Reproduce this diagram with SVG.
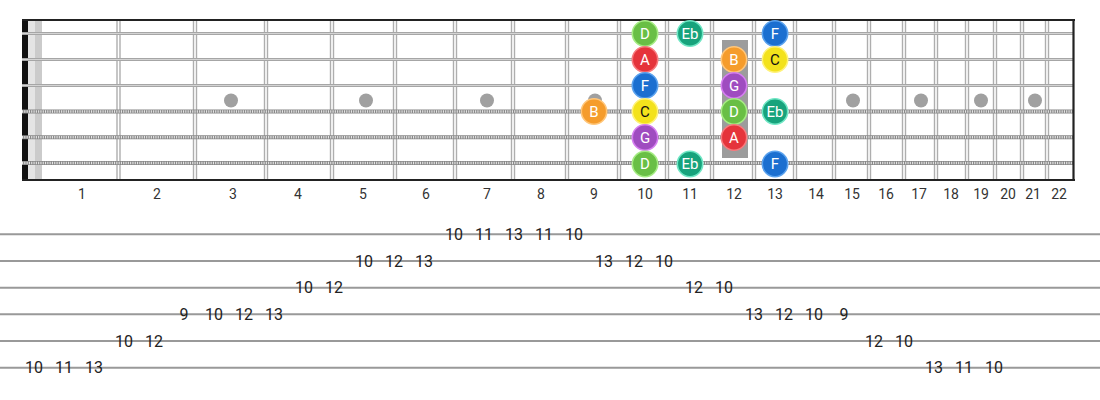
<svg xmlns="http://www.w3.org/2000/svg" width="1100" height="400" viewBox="0 0 1100 400">
<style>
.fret{stroke:#aeaeae;stroke-width:1.4}
.plain{stroke:#a6a6a6;stroke-width:3.2}
.plainc{stroke:#d4d4d4;stroke-width:1}
.wound{stroke:#888;stroke-width:4}
.woundc{stroke:#e6e6e6;stroke-width:2.4;stroke-dasharray:1.1 1.2}
.dot{fill:#a0a0a0}
.fnum{font-family:Roboto,"Liberation Sans",sans-serif;font-size:14px;fill:#333;text-anchor:middle}
.note text{font-family:Roboto,"Liberation Sans",sans-serif;font-size:15px;fill:#fff;text-anchor:middle;dominant-baseline:central}
.note circle{stroke-width:1.6}
.D circle{fill:#69bf45;stroke:#a6ec84}
.Eb circle{fill:#17a37c;stroke:#6fe6c4}
.F circle{fill:#1b6fd0;stroke:#5aa2ee}
.A circle{fill:#e5343b;stroke:#f77a7e}
.B circle{fill:#f59c2c;stroke:#ffc67a}
.C circle{fill:#f3e21c;stroke:#fff27a}
.C text{fill:#111}
.G circle{fill:#9f4cc0;stroke:#d57ef0}
.tline{stroke:#999;stroke-width:2}
.tab{font-family:Roboto,"Liberation Sans",sans-serif;font-size:16px;fill:#222;text-anchor:middle;dominant-baseline:central}
</style>
<rect width="1100" height="400" fill="#fff"/>
<g id="fretboard">
<rect x="28" y="20" width="7" height="160" fill="#e4e4e4"/>
<rect x="35" y="20" width="7" height="160" fill="#cbcbcb"/>
<g id="frets">
<line class="fret" x1="117" y1="20" x2="117" y2="180"/><line class="fret" x1="120" y1="20" x2="120" y2="180"/>
<line class="fret" x1="193.5" y1="20" x2="193.5" y2="180"/><line class="fret" x1="196.5" y1="20" x2="196.5" y2="180"/>
<line class="fret" x1="264.5" y1="20" x2="264.5" y2="180"/><line class="fret" x1="267.5" y1="20" x2="267.5" y2="180"/>
<line class="fret" x1="330.5" y1="20" x2="330.5" y2="180"/><line class="fret" x1="333.5" y1="20" x2="333.5" y2="180"/>
<line class="fret" x1="393.5" y1="20" x2="393.5" y2="180"/><line class="fret" x1="396.5" y1="20" x2="396.5" y2="180"/>
<line class="fret" x1="453.5" y1="20" x2="453.5" y2="180"/><line class="fret" x1="456.5" y1="20" x2="456.5" y2="180"/>
<line class="fret" x1="511.5" y1="20" x2="511.5" y2="180"/><line class="fret" x1="514.5" y1="20" x2="514.5" y2="180"/>
<line class="fret" x1="565.5" y1="20" x2="565.5" y2="180"/><line class="fret" x1="568.5" y1="20" x2="568.5" y2="180"/>
<line class="fret" x1="617.5" y1="20" x2="617.5" y2="180"/><line class="fret" x1="620.5" y1="20" x2="620.5" y2="180"/>
<line class="fret" x1="665.5" y1="20" x2="665.5" y2="180"/><line class="fret" x1="668.5" y1="20" x2="668.5" y2="180"/>
<line class="fret" x1="710.5" y1="20" x2="710.5" y2="180"/><line class="fret" x1="713.5" y1="20" x2="713.5" y2="180"/>
<line class="fret" x1="752.5" y1="20" x2="752.5" y2="180"/><line class="fret" x1="755.5" y1="20" x2="755.5" y2="180"/>
<line class="fret" x1="793.5" y1="20" x2="793.5" y2="180"/><line class="fret" x1="796.5" y1="20" x2="796.5" y2="180"/>
<line class="fret" x1="832.5" y1="20" x2="832.5" y2="180"/><line class="fret" x1="835.5" y1="20" x2="835.5" y2="180"/>
<line class="fret" x1="867.5" y1="20" x2="867.5" y2="180"/><line class="fret" x1="870.5" y1="20" x2="870.5" y2="180"/>
<line class="fret" x1="902.5" y1="20" x2="902.5" y2="180"/><line class="fret" x1="905.5" y1="20" x2="905.5" y2="180"/>
<line class="fret" x1="934.5" y1="20" x2="934.5" y2="180"/><line class="fret" x1="937.5" y1="20" x2="937.5" y2="180"/>
<line class="fret" x1="965.5" y1="20" x2="965.5" y2="180"/><line class="fret" x1="968.5" y1="20" x2="968.5" y2="180"/>
<line class="fret" x1="993.5" y1="20" x2="993.5" y2="180"/><line class="fret" x1="996.5" y1="20" x2="996.5" y2="180"/>
<line class="fret" x1="1020.5" y1="20" x2="1020.5" y2="180"/><line class="fret" x1="1023.5" y1="20" x2="1023.5" y2="180"/>
<line class="fret" x1="1045.5" y1="20" x2="1045.5" y2="180"/><line class="fret" x1="1048.5" y1="20" x2="1048.5" y2="180"/>
</g>
<rect x="22" y="20" width="6" height="160" fill="#111"/>
<g id="strings">
<line class="plain" x1="22" y1="33.5" x2="1074" y2="33.5"/><line class="plainc" x1="22" y1="33.5" x2="1074" y2="33.5"/>
<line class="plain" x1="22" y1="59.5" x2="1074" y2="59.5"/><line class="plainc" x1="22" y1="59.5" x2="1074" y2="59.5"/>
<line class="plain" x1="22" y1="85.5" x2="1074" y2="85.5"/><line class="plainc" x1="22" y1="85.5" x2="1074" y2="85.5"/>
<line class="wound" x1="22" y1="111.5" x2="1074" y2="111.5"/><line class="woundc" x1="22" y1="111.5" x2="1074" y2="111.5"/>
<line class="wound" x1="22" y1="137.3" x2="1074" y2="137.3"/><line class="woundc" x1="22" y1="137.3" x2="1074" y2="137.3"/>
<line class="wound" x1="22" y1="163" x2="1074" y2="163"/><line class="woundc" x1="22" y1="163" x2="1074" y2="163"/>
</g>
<line x1="22" y1="20" x2="1075" y2="20" stroke="#222" stroke-width="2"/>
<line x1="22" y1="180" x2="1075" y2="180" stroke="#222" stroke-width="2"/>
<line x1="1073.5" y1="20" x2="1073.5" y2="180" stroke="#222" stroke-width="2.2"/>
<g id="markers">
<circle class="dot" cx="231" cy="100.5" r="7"/>
<circle class="dot" cx="366" cy="100.5" r="7"/>
<circle class="dot" cx="487" cy="100.5" r="7"/>
<circle class="dot" cx="595" cy="100.5" r="7"/>
<rect x="722" y="40" width="26" height="118" fill="#9c9c9c"/>
<circle class="dot" cx="853" cy="100.5" r="7"/>
<circle class="dot" cx="921" cy="100.5" r="7"/>
<circle class="dot" cx="981" cy="100.5" r="7"/>
<circle class="dot" cx="1035" cy="100.5" r="7"/>
</g>
<g id="fret-numbers">
<text class="fnum" x="82" y="199">1</text>
<text class="fnum" x="157" y="199">2</text>
<text class="fnum" x="233" y="199">3</text>
<text class="fnum" x="298" y="199">4</text>
<text class="fnum" x="363" y="199">5</text>
<text class="fnum" x="426" y="199">6</text>
<text class="fnum" x="487" y="199">7</text>
<text class="fnum" x="541" y="199">8</text>
<text class="fnum" x="594" y="199">9</text>
<text class="fnum" x="645" y="199">10</text>
<text class="fnum" x="690" y="199">11</text>
<text class="fnum" x="734" y="199">12</text>
<text class="fnum" x="775" y="199">13</text>
<text class="fnum" x="816" y="199">14</text>
<text class="fnum" x="852" y="199">15</text>
<text class="fnum" x="886" y="199">16</text>
<text class="fnum" x="919" y="199">17</text>
<text class="fnum" x="951" y="199">18</text>
<text class="fnum" x="981" y="199">19</text>
<text class="fnum" x="1008" y="199">20</text>
<text class="fnum" x="1033" y="199">21</text>
<text class="fnum" x="1059" y="199">22</text>
</g>
</g>
<g id="notes">
<g id="n-s1-f10" class="note D"><circle cx="645" cy="33.5" r="12.7"/><text x="645" y="33.5">D</text></g>
<g id="n-s1-f11" class="note Eb"><circle cx="690" cy="33.5" r="12.7"/><text x="690" y="33.5">Eb</text></g>
<g id="n-s1-f13" class="note F"><circle cx="775" cy="33.5" r="12.7"/><text x="775" y="33.5">F</text></g>
<g id="n-s2-f10" class="note A"><circle cx="645" cy="59.5" r="12.7"/><text x="645" y="59.5">A</text></g>
<g id="n-s2-f12" class="note B"><circle cx="734" cy="59.5" r="12.7"/><text x="734" y="59.5">B</text></g>
<g id="n-s2-f13" class="note C"><circle cx="775" cy="59.5" r="12.7"/><text x="775" y="59.5">C</text></g>
<g id="n-s3-f10" class="note F"><circle cx="645" cy="85.5" r="12.7"/><text x="645" y="85.5">F</text></g>
<g id="n-s3-f12" class="note G"><circle cx="734" cy="85.5" r="12.7"/><text x="734" y="85.5">G</text></g>
<g id="n-s4-f9" class="note B"><circle cx="594" cy="111.5" r="12.7"/><text x="594" y="111.5">B</text></g>
<g id="n-s4-f10" class="note C"><circle cx="645" cy="111.5" r="12.7"/><text x="645" y="111.5">C</text></g>
<g id="n-s4-f12" class="note D"><circle cx="734" cy="111.5" r="12.7"/><text x="734" y="111.5">D</text></g>
<g id="n-s4-f13" class="note Eb"><circle cx="775" cy="111.5" r="12.7"/><text x="775" y="111.5">Eb</text></g>
<g id="n-s5-f10" class="note G"><circle cx="645" cy="137.5" r="12.7"/><text x="645" y="137.5">G</text></g>
<g id="n-s5-f12" class="note A"><circle cx="734" cy="137.5" r="12.7"/><text x="734" y="137.5">A</text></g>
<g id="n-s6-f10" class="note D"><circle cx="645" cy="164" r="12.7"/><text x="645" y="164">D</text></g>
<g id="n-s6-f11" class="note Eb"><circle cx="690" cy="164" r="12.7"/><text x="690" y="164">Eb</text></g>
<g id="n-s6-f13" class="note F"><circle cx="775" cy="164" r="12.7"/><text x="775" y="164">F</text></g>
</g>
<g id="tab-lines">
<line class="tline" x1="0" y1="234.3" x2="1100" y2="234.3"/>
<line class="tline" x1="0" y1="261" x2="1100" y2="261"/>
<line class="tline" x1="0" y1="287.7" x2="1100" y2="287.7"/>
<line class="tline" x1="0" y1="314.3" x2="1100" y2="314.3"/>
<line class="tline" x1="0" y1="341" x2="1100" y2="341"/>
<line class="tline" x1="0" y1="367.7" x2="1100" y2="367.7"/>
</g>
<g id="tab-numbers">
<text class="tab" x="34" y="367.7">10</text>
<text class="tab" x="64" y="367.7">11</text>
<text class="tab" x="94" y="367.7">13</text>
<text class="tab" x="124" y="341">10</text>
<text class="tab" x="154" y="341">12</text>
<text class="tab" x="184" y="314.3">9</text>
<text class="tab" x="214" y="314.3">10</text>
<text class="tab" x="244" y="314.3">12</text>
<text class="tab" x="274" y="314.3">13</text>
<text class="tab" x="304" y="287.7">10</text>
<text class="tab" x="334" y="287.7">12</text>
<text class="tab" x="364" y="261">10</text>
<text class="tab" x="394" y="261">12</text>
<text class="tab" x="424" y="261">13</text>
<text class="tab" x="454" y="234.3">10</text>
<text class="tab" x="484" y="234.3">11</text>
<text class="tab" x="514" y="234.3">13</text>
<text class="tab" x="544" y="234.3">11</text>
<text class="tab" x="574" y="234.3">10</text>
<text class="tab" x="604" y="261">13</text>
<text class="tab" x="634" y="261">12</text>
<text class="tab" x="664" y="261">10</text>
<text class="tab" x="694" y="287.7">12</text>
<text class="tab" x="724" y="287.7">10</text>
<text class="tab" x="754" y="314.3">13</text>
<text class="tab" x="784" y="314.3">12</text>
<text class="tab" x="814" y="314.3">10</text>
<text class="tab" x="844" y="314.3">9</text>
<text class="tab" x="874" y="341">12</text>
<text class="tab" x="904" y="341">10</text>
<text class="tab" x="934" y="367.7">13</text>
<text class="tab" x="964" y="367.7">11</text>
<text class="tab" x="994" y="367.7">10</text>
</g>
</svg>
